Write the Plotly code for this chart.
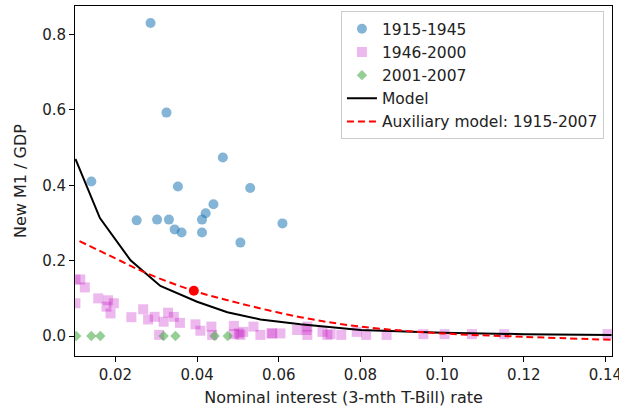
import plotly.graph_objects as go

# 1915-1945 observations
blue_x = [0.0286, 0.0325, 0.0463, 0.0141, 0.0353, 0.0530, 0.0440, 0.0421, 0.0412,
          0.0252, 0.0302, 0.0331, 0.0345, 0.0362, 0.0412, 0.0609, 0.0506]
blue_y = [0.831, 0.593, 0.474, 0.410, 0.397, 0.393, 0.350, 0.326, 0.309,
          0.307, 0.309, 0.309, 0.283, 0.275, 0.275, 0.299, 0.248]

# 1946-2000 observations
sq_x = [0.0102, 0.0114, 0.0125, 0.0102, 0.0158, 0.0182, 0.0196, 0.0178, 0.0188, 0.0239,
        0.0268, 0.0280, 0.0296, 0.0318, 0.0329, 0.0343, 0.0358, 0.0307, 0.0396, 0.0408,
        0.0435, 0.0437, 0.0490, 0.0506, 0.0490, 0.0538, 0.0513, 0.0555, 0.0582, 0.0604,
        0.0645, 0.0668, 0.0502, 0.0584, 0.0670, 0.0719, 0.0670, 0.0707, 0.0727, 0.0753,
        0.0791, 0.0814, 0.0864, 0.0954, 0.1006, 0.1073, 0.1152, 0.1405]
sq_y = [0.150, 0.150, 0.129, 0.087, 0.100, 0.095, 0.087, 0.078, 0.060, 0.050,
        0.071, 0.044, 0.051, 0.038, 0.062, 0.051, 0.035, 0.003, 0.031, 0.014,
        0.025, 0.003, 0.027, 0.003, 0.005, 0.025, 0.011, 0.003, 0.007, 0.007,
        0.016, 0.016, 0.007, 0.007, 0.003, 0.003, 0.025, 0.011, 0.005, 0.003,
        0.011, 0.003, 0.003, 0.005, 0.005, 0.005, 0.005, 0.005]

# 2001-2007 observations
dia_x = [0.0104, 0.0141, 0.0163, 0.0318, 0.0347, 0.0443, 0.0475]
dia_y = [0.0, 0.0, 0.0, 0.0, 0.0, 0.0, 0.0]

# Model curve
model_x = [0.0102, 0.0162, 0.0237, 0.0310, 0.0400, 0.0474, 0.0555, 0.0653,
           0.0800, 0.1000, 0.1200, 0.1415]
model_y = [0.470, 0.313, 0.201, 0.133, 0.091, 0.063, 0.044, 0.031,
           0.016, 0.009, 0.005, 0.003]

# Auxiliary model fitted on 1915-2007
aux_x = [0.0112, 0.0200, 0.0278, 0.0392, 0.0500, 0.0653, 0.0800, 0.1000, 0.1200, 0.1415]
aux_y = [0.252, 0.206, 0.166, 0.120, 0.088, 0.050, 0.025, 0.007, -0.002, -0.010]

# Highlighted point on the auxiliary model
dot_x = [0.0392]
dot_y = [0.120]

FONT = "DejaVu Sans"
TEXT = "#222"

fig = go.Figure()
fig.add_trace(go.Scatter(
    x=blue_x, y=blue_y, mode="markers", name="1915-1945",
    marker=dict(symbol="circle", size=10, color="rgba(31,119,180,0.55)", line=dict(width=0)),
))
fig.add_trace(go.Scatter(
    x=sq_x, y=sq_y, mode="markers", name="1946-2000",
    marker=dict(symbol="square", size=10, color="rgba(191,0,191,0.28)", line=dict(width=0)),
))
fig.add_trace(go.Scatter(
    x=dia_x, y=dia_y, mode="markers", name="2001-2007",
    marker=dict(symbol="diamond", size=8, color="rgba(44,160,44,0.5)", line=dict(width=0)),
))
fig.add_trace(go.Scatter(
    x=model_x, y=model_y, mode="lines", name="Model",
    line=dict(color="black", width=2),
))
fig.add_trace(go.Scatter(
    x=aux_x, y=aux_y, mode="lines", name="Auxiliary model: 1915-2007",
    line=dict(color="#ff0000", width=2, dash="7px,4px", shape="spline"),
))
fig.add_trace(go.Scatter(
    x=dot_x, y=dot_y, mode="markers", showlegend=False,
    marker=dict(symbol="circle", size=10, color="#ff0000"),
))

axis_common = dict(
    showgrid=False, zeroline=False, showline=True, mirror=True,
    linecolor="black", linewidth=1, ticks="outside", ticklen=5, tickwidth=1,
    tickcolor="black", tickfont=dict(family=FONT, size=15, color=TEXT),
    ticklabeloverflow="allow", automargin=False,
)

fig.update_layout(
    width=619, height=410,
    margin=dict(l=75, r=7, t=6, b=54),
    paper_bgcolor="white", plot_bgcolor="white",
    font=dict(family=FONT, size=15, color=TEXT),
    xaxis=dict(range=[0.0101, 0.1416], tickvals=[0.02, 0.04, 0.06, 0.08, 0.10, 0.12, 0.14],
               tickformat=".2f",
               title=dict(text="Nominal interest (3-mth T-Bill) rate", standoff=8,
                          font=dict(family=FONT, size=16, color=TEXT)),
               **axis_common),
    yaxis=dict(range=[-0.053, 0.876], tickvals=[0.0, 0.2, 0.4, 0.6, 0.8], tickformat=".1f",
               title=dict(text="New M1 / GDP", standoff=11,
                          font=dict(family=FONT, size=16, color=TEXT)),
               **axis_common),
    legend=dict(
        x=0.985, xanchor="right", y=0.985, yanchor="top",
        bgcolor="rgba(255,255,255,0.8)", bordercolor="#cccccc", borderwidth=1,
        font=dict(family=FONT, size=15.5, color=TEXT),
    ),
    showlegend=True,
)

fig.write_html("out.html")
